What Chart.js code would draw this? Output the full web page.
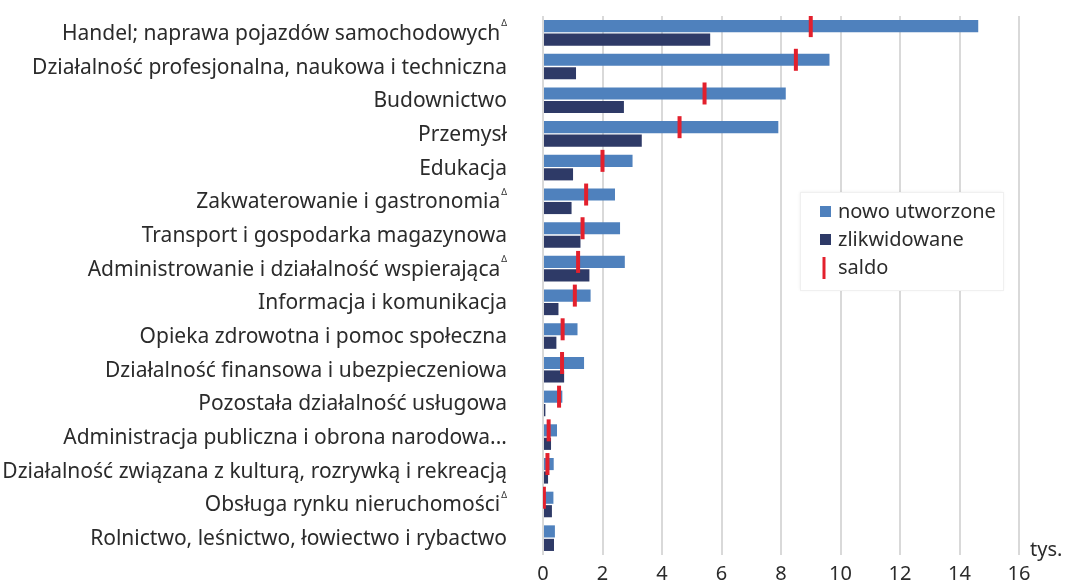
<!DOCTYPE html>
<html>
<head>
<meta charset="utf-8">
<script src="https://cdn.jsdelivr.net/npm/chart.js@4.4.1/dist/chart.umd.min.js"></script>
<style>
  body { margin: 0; background: #fff; }
  #wrap { width: 1067px; height: 583px; }
</style>
</head>
<body>
<div id="wrap"><canvas id="chart" width="1067" height="583"></canvas></div>
<script>
// data (tys.)
const categories = [
  "Handel; naprawa pojazdów samochodowych",
  "Działalność profesjonalna, naukowa i techniczna",
  "Budownictwo",
  "Przemysł",
  "Edukacja",
  "Zakwaterowanie i gastronomia",
  "Transport i gospodarka magazynowa",
  "Administrowanie i działalność wspierająca",
  "Informacja i komunikacja",
  "Opieka zdrowotna i pomoc społeczna",
  "Działalność finansowa i ubezpieczeniowa",
  "Pozostała działalność usługowa",
  "Administracja publiczna i obrona narodowa...",
  "Działalność związana z kulturą, rozrywką i rekreacją",
  "Obsługa rynku nieruchomości",
  "Rolnictwo, leśnictwo, łowiectwo i rybactwo"
];
const deltaMark = [true, false, false, false, false, true, false, true, false, false, false, false, false, false, true, false];
const nowoUtworzone = [14.63, 9.63, 8.16, 7.91, 3.01, 2.42, 2.59, 2.75, 1.60, 1.16, 1.38, 0.65, 0.47, 0.36, 0.35, 0.40];
const zlikwidowane = [5.62, 1.11, 2.72, 3.32, 1.01, 0.96, 1.26, 1.56, 0.52, 0.45, 0.71, 0.08, 0.27, 0.17, 0.30, 0.37];
const saldo = [9.0, 8.5, 5.43, 4.59, 2.0, 1.45, 1.33, 1.18, 1.07, 0.66, 0.64, 0.54, 0.19, 0.15, 0.03, null];
const legendLabels = ["nowo utworzone", "zlikwidowane", "saldo"];
const unitLabel = "tys.";

const BLUE = '#4f81bd';
const NAVY = '#2e3a67';
const RED = '#e3202d';
const TEXT = '#2b2b2b';
const FONT = '"Noto Sans", "DejaVu Sans", sans-serif';

// saldo marks sit on the ySaldo scale (index = category, shifted onto the upper bar)
const saldoPoints = [];
saldo.forEach((v, i) => { if (v != null) saldoPoints.push({ x: v, y: i }); });

const extrasPlugin = {
  id: 'extras',
  afterDraw(chart) {
    const ctx = chart.ctx;
    const yScale = chart.scales.y;
    ctx.save();
    ctx.fillStyle = TEXT;
    ctx.textBaseline = 'middle';
    ctx.textAlign = 'right';
    // category labels, some with a small superscript delta
    categories.forEach((c, i) => {
      const y = yScale.getPixelForValue(i) + 1;
      let right = 507;
      if (deltaMark[i]) {
        ctx.font = '9px ' + FONT;
        ctx.fillText('Δ', right, y - 10);
        right -= ctx.measureText('Δ').width + 1;
      }
      ctx.font = '21px ' + FONT;
      ctx.fillText(c, right, y);
    });

    // unit
    ctx.textAlign = 'left';
    ctx.font = '20px ' + FONT;
    ctx.fillText(unitLabel, 1030, 550);

    // legend box
    ctx.fillStyle = '#ffffff';
    ctx.shadowColor = 'rgba(0,0,0,0.08)';
    ctx.shadowBlur = 3;
    ctx.fillRect(800, 192, 203, 98);
    ctx.shadowBlur = 0;
    ctx.shadowColor = 'transparent';
    ctx.strokeStyle = '#f0f0f0';
    ctx.lineWidth = 1;
    ctx.strokeRect(800.5, 192.5, 203, 98);

    const rowY = [212, 240, 268];
    ctx.fillStyle = BLUE;
    ctx.fillRect(820, 206, 11, 11);
    ctx.fillStyle = NAVY;
    ctx.fillRect(820, 234, 11, 11);
    ctx.strokeStyle = RED;
    ctx.lineWidth = 3;
    ctx.beginPath();
    ctx.moveTo(824, 257);
    ctx.lineTo(824, 279);
    ctx.stroke();

    ctx.fillStyle = TEXT;
    ctx.font = '20px ' + FONT;
    legendLabels.forEach((t, i) => ctx.fillText(t, 838, rowY[i]));
    ctx.restore();
  }
};

const ctx = document.getElementById('chart').getContext('2d');
const chart = new Chart(ctx, {
  type: 'bar',
  data: {
    labels: categories,
    datasets: [
      {
        type: 'scatter',
        label: 'saldo',
        data: saldoPoints,
        xAxisID: 'x',
        yAxisID: 'ySaldo',
        pointStyle: 'line',
        rotation: 90,
        radius: 11,
        borderWidth: 4,
        borderColor: RED,
        backgroundColor: RED,
        order: 0
      },
      {
        label: 'nowo utworzone',
        data: nowoUtworzone,
        indexAxis: 'y',
        xAxisID: 'x',
        yAxisID: 'y',
        backgroundColor: BLUE,
        categoryPercentage: 0.8,
        barPercentage: 0.9,
        order: 1
      },
      {
        label: 'zlikwidowane',
        data: zlikwidowane,
        indexAxis: 'y',
        xAxisID: 'x',
        yAxisID: 'y',
        backgroundColor: NAVY,
        categoryPercentage: 0.8,
        barPercentage: 0.9,
        order: 1
      }
    ]
  },
  options: {
    responsive: false,
    animation: false,
    layout: { padding: { top: 16, right: 48, left: 0, bottom: 0 } },
    plugins: {
      legend: { display: false },
      tooltip: { enabled: false }
    },
    scales: {
      x: {
        type: 'linear',
        position: 'bottom',
        offset: false,
        min: 0,
        max: 16,
        ticks: {
          stepSize: 2,
          color: TEXT,
          font: { size: 20, family: FONT, lineHeight: 1 },
          padding: 9
        },
        grid: { color: '#d9d9d9', lineWidth: 2, drawTicks: false, offset: false },
        border: { display: false },
        afterFit(scale) { scale.height = 28; }
      },
      y: {
        type: 'category',
        position: 'left',
        offset: true,
        ticks: { display: false },
        grid: { display: false },
        border: { display: false },
        afterFit(scale) { scale.width = 543; }
      },
      ySaldo: {
        type: 'linear',
        display: false,
        offset: false,
        grid: { offset: false },
        min: -0.3,
        max: 15.7,
        reverse: true
      }
    }
  },
  plugins: [extrasPlugin]
});
</script>
</body>
</html>
